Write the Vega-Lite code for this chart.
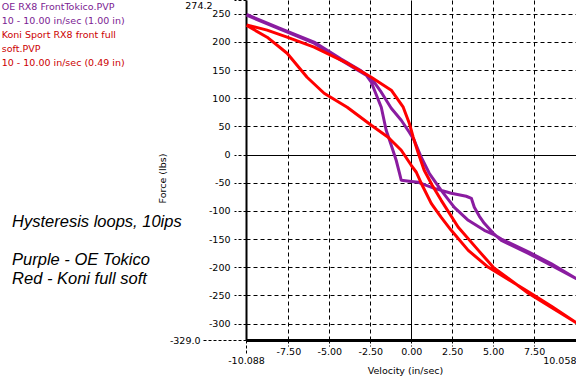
{
  "$schema": "https://vega.github.io/schema/vega-lite/v6.json",
  "width": 330,
  "height": 340,
  "autosize": {"type": "none"},
  "padding": {"left": 246, "top": 0, "right": 0, "bottom": 43},
  "background": "white",
  "config": {"view": {"stroke": null}, "font": "DejaVu Sans"},
  "resolve": {"axis": {"y": "independent"}},
  "layer": [
    {
      "data": {"values": [
        {"s":"OE","i":0,"v":-10.05,"f":247.3},{"s":"OE","i":1,"v":-8.01,"f":222.4},{"s":"OE","i":2,"v":-5.93,"f":197.6},{"s":"OE","i":3,"v":-4.28,"f":167.4},{"s":"OE","i":4,"v":-3.06,"f":146.1},{"s":"OE","i":5,"v":-2.75,"f":140.8},{"s":"OE","i":6,"v":-2.44,"f":128.4},{"s":"OE","i":7,"v":-1.83,"f":84.0},{"s":"OE","i":8,"v":-1.53,"f":43.1},{"s":"OE","i":9,"v":-1.22,"f":16.5},{"s":"OE","i":10,"v":-0.92,"f":-10.1},{"s":"OE","i":11,"v":-0.73,"f":-31.4},{"s":"OE","i":12,"v":-0.61,"f":-45.6},{"s":"OE","i":13,"v":-0.12,"f":-47.4},{"s":"OE","i":14,"v":0.43,"f":-49.2},{"s":"OE","i":15,"v":1.41,"f":-59.9},{"s":"OE","i":16,"v":2.44,"f":-68.7},{"s":"OE","i":17,"v":3.36,"f":-74.0},{"s":"OE","i":18,"v":3.67,"f":-77.6},{"s":"OE","i":19,"v":3.85,"f":-93.6},{"s":"OE","i":20,"v":4.16,"f":-109.6},{"s":"OE","i":21,"v":4.46,"f":-122.0},{"s":"OE","i":22,"v":5.01,"f":-139.7},{"s":"OE","i":23,"v":5.5,"f":-152.2},{"s":"OE","i":24,"v":7.15,"f":-175.2},{"s":"OE","i":25,"v":8.56,"f":-196.6},{"s":"OE","i":26,"v":10.05,"f":-219.6},{"s":"OE","i":27,"v":8.56,"f":-194.0},{"s":"OE","i":28,"v":7.15,"f":-172.5},{"s":"OE","i":29,"v":5.5,"f":-150.0},{"s":"OE","i":30,"v":5.01,"f":-141.5},{"s":"OE","i":31,"v":4.46,"f":-134.4},{"s":"OE","i":32,"v":3.48,"f":-116.7},{"s":"OE","i":33,"v":2.63,"f":-93.6},{"s":"OE","i":34,"v":1.83,"f":-63.4},{"s":"OE","i":35,"v":1.1,"f":-33.2},{"s":"OE","i":36,"v":0.61,"f":-4.8},{"s":"OE","i":37,"v":0.18,"f":25.4},{"s":"OE","i":38,"v":-0.12,"f":39.6},{"s":"OE","i":39,"v":-0.61,"f":60.9},{"s":"OE","i":40,"v":-1.22,"f":82.2},{"s":"OE","i":41,"v":-1.83,"f":110.6},{"s":"OE","i":42,"v":-2.44,"f":135.5},{"s":"OE","i":43,"v":-3.06,"f":148.5},{"s":"OE","i":44,"v":-4.28,"f":169.5},{"s":"OE","i":45,"v":-5.93,"f":199.5},{"s":"OE","i":46,"v":-8.01,"f":224.0},{"s":"OE","i":47,"v":-10.05,"f":248.5},
        {"s":"Koni","i":0,"v":-10.05,"f":230.0},{"s":"Koni","i":1,"v":-8.8,"f":220.7},{"s":"Koni","i":2,"v":-7.58,"f":208.2},{"s":"Koni","i":3,"v":-5.93,"f":190.5},{"s":"Koni","i":4,"v":-3.91,"f":162.1},{"s":"Koni","i":5,"v":-2.44,"f":137.2},{"s":"Koni","i":6,"v":-1.22,"f":114.2},{"s":"Koni","i":7,"v":-0.49,"f":84.0},{"s":"Koni","i":8,"v":-0.12,"f":55.6},{"s":"Koni","i":9,"v":0.12,"f":30.7},{"s":"Koni","i":10,"v":0.43,"f":2.3},{"s":"Koni","i":11,"v":0.79,"f":-27.9},{"s":"Koni","i":12,"v":1.28,"f":-54.5},{"s":"Koni","i":13,"v":1.83,"f":-81.2},{"s":"Koni","i":14,"v":2.87,"f":-129.1},{"s":"Koni","i":15,"v":4.1,"f":-170.0},{"s":"Koni","i":16,"v":5.01,"f":-200.1},{"s":"Koni","i":17,"v":7.15,"f":-246.2},{"s":"Koni","i":18,"v":8.56,"f":-271.1},{"s":"Koni","i":19,"v":10.05,"f":-297.7},{"s":"Koni","i":20,"v":8.56,"f":-269.0},{"s":"Koni","i":21,"v":7.15,"f":-243.5},{"s":"Koni","i":22,"v":4.71,"f":-200.1},{"s":"Koni","i":23,"v":3.48,"f":-170.0},{"s":"Koni","i":24,"v":2.44,"f":-134.4},{"s":"Koni","i":25,"v":1.83,"f":-111.3},{"s":"Koni","i":26,"v":1.22,"f":-86.5},{"s":"Koni","i":27,"v":0.67,"f":-54.5},{"s":"Koni","i":28,"v":0.31,"f":-31.4},{"s":"Koni","i":29,"v":0.0,"f":-19.0},{"s":"Koni","i":30,"v":-0.61,"f":7.6},{"s":"Koni","i":31,"v":-1.41,"f":30.7},{"s":"Koni","i":32,"v":-2.44,"f":52.0},{"s":"Koni","i":33,"v":-3.91,"f":84.0},{"s":"Koni","i":34,"v":-5.32,"f":108.8},{"s":"Koni","i":35,"v":-6.36,"f":137.2},{"s":"Koni","i":36,"v":-7.58,"f":179.8},{"s":"Koni","i":37,"v":-8.8,"f":208.2},{"s":"Koni","i":38,"v":-10.05,"f":229.0}
      ]},
      "mark": {"type": "line", "strokeWidth": 3, "clip": true, "strokeJoin": "round"},
      "encoding": {
        "x": {
          "field": "v", "type": "quantitative",
          "scale": {"domain": [-10.088, 10.058], "nice": false, "zero": false},
          "axis": {
            "values": [-10.088, -7.5, -5, -2.5, 0, 2.5, 5, 7.5, 10.058],
            "labelExpr": "(datum.value < 0 ? '-' : '') + format(abs(datum.value), abs(datum.value) > 10 ? '.3f' : '.2f')",
            "title": "Velocity (in/sec)",
            "titleFont": "DejaVu Sans", "titleFontSize": 9.5, "titleFontWeight": "normal", "titleColor": "black",
            "titleBaseline": "top", "titleY": 25, "titleX": 159,
            "grid": true, "gridColor": "black", "gridWidth": 1,
            "gridOpacity": {"condition": {"test": "abs(datum.value) > 10", "value": 0}, "value": 1},
            "gridDash": {"condition": {"test": "datum.value == 0", "value": []}, "value": [4, 3]},
            "domainColor": "black", "domainWidth": 3,
            "ticks": true, "tickColor": "black", "tickWidth": 1, "tickDash": [3, 2],
            "tickSize": {"condition": {"test": "abs(datum.value) > 10", "value": 15}, "value": 6},
            "labelPadding": 0,
            "labelFont": "DejaVu Sans", "labelFontSize": 9.5, "labelColor": "black",
            "labelAlign": {"condition": {"test": "datum.value > 10", "value": "right"}, "value": "center"},
            "labelBaseline": "top",
            "labelFlush": false, "labelOverlap": false, "labelBound": false
          }
        },
        "y": {
          "field": "f", "type": "quantitative",
          "scale": {"domain": [-329, 274.2], "nice": false, "zero": false},
          "axis": {
            "orient": "left",
            "values": [-300, -250, -200, -150, -100, -50, 0, 50, 100, 150, 200, 250],
            "labelExpr": "(datum.value < 0 ? '-' : '') + format(abs(datum.value), 'd')",
            "title": "Force (lbs)",
            "titleFont": "DejaVu Sans", "titleFontSize": 9.5, "titleFontWeight": "normal", "titleColor": "black",
            "titleAngle": -90, "titleBaseline": "alphabetic", "titleAlign": "center", "titleX": -81, "titleY": 178,
            "grid": true, "gridColor": "black", "gridWidth": 1,
            "gridDash": {"condition": {"test": "datum.value == 0", "value": []}, "value": [4, 3]},
            "domainColor": "black", "domainWidth": 2,
            "ticks": true, "tickColor": "black", "tickWidth": 1, "tickDash": [3, 2],
            "tickSize": 12, "labelPadding": 4,
            "labelFont": "DejaVu Sans", "labelFontSize": 9.5, "labelColor": "black",
            "labelFlush": false, "labelOverlap": false, "labelBound": false
          }
        },
        "order": {"field": "i", "type": "quantitative"},
        "color": {
          "field": "s", "type": "nominal",
          "scale": {"domain": ["OE", "Koni"], "range": ["#8A1CA0", "#FF0000"]},
          "legend": null
        }
      }
    },
    {
      "data": {"values": [{"t": "OE RX8 FrontTokico.PVP\n10 - 10.00 in/sec (1.00 in)"}]},
      "mark": {"type": "text", "align": "left", "baseline": "alphabetic", "lineBreak": "\n", "font": "DejaVu Sans", "fontSize": 9.5, "lineHeight": 13.9, "color": "#7B2192"},
      "encoding": {
        "text": {"field": "t"},
        "x": {"datum": -25.0},
        "y": {"datum": 256.5, "type": "quantitative", "axis": {
          "orient": "left", "offset": 0,
          "values": [-329, 274.2],
          "labelExpr": "(datum.value < 0 ? '-' : '') + format(abs(datum.value), '.1f')",
          "title": null, "grid": false, "domain": false,
          "ticks": true, "tickColor": "black", "tickWidth": 1, "tickDash": [3, 2],
          "tickSize": {"condition": {"test": "datum.value < 0", "value": 44}, "value": 12},
          "labelPadding": {"condition": {"test": "datum.value > 0", "value": 22}, "value": 2},
          "labelBaseline": {"condition": {"test": "datum.value > 0", "value": "top"}, "value": "middle"},
          "labelFont": "DejaVu Sans", "labelFontSize": 9.5, "labelColor": "black",
          "labelFlush": false, "labelOverlap": false, "labelBound": false
        }}
      }
    },
    {
      "data": {"values": [{"t": "Koni Sport RX8 front full\nsoft.PVP\n10 - 10.00 in/sec (0.49 in)"}]},
      "mark": {"type": "text", "align": "left", "baseline": "alphabetic", "lineBreak": "\n", "font": "DejaVu Sans", "fontSize": 9.5, "lineHeight": 13.9, "color": "#CC0000"},
      "encoding": {"text": {"field": "t"}, "x": {"datum": -25.0}, "y": {"datum": 206.3, "type": "quantitative", "axis": null}}
    },
    {
      "data": {"values": [{"t": "Hysteresis loops, 10ips"}]},
      "mark": {"type": "text", "align": "left", "baseline": "alphabetic", "font": "Liberation Sans", "fontStyle": "italic", "fontSize": 16.5, "color": "black"},
      "encoding": {"text": {"field": "t"}, "x": {"datum": -24.37}, "y": {"datum": -129.4, "type": "quantitative", "axis": null}}
    },
    {
      "data": {"values": [{"t": "Purple - OE Tokico\nRed - Koni full soft"}]},
      "mark": {"type": "text", "align": "left", "baseline": "alphabetic", "lineBreak": "\n", "font": "Liberation Sans", "fontStyle": "italic", "fontSize": 16.5, "lineHeight": 18.7, "color": "black"},
      "encoding": {"text": {"field": "t"}, "x": {"datum": -24.37}, "y": {"datum": -195.8, "type": "quantitative", "axis": null}}
    }
  ]
}
